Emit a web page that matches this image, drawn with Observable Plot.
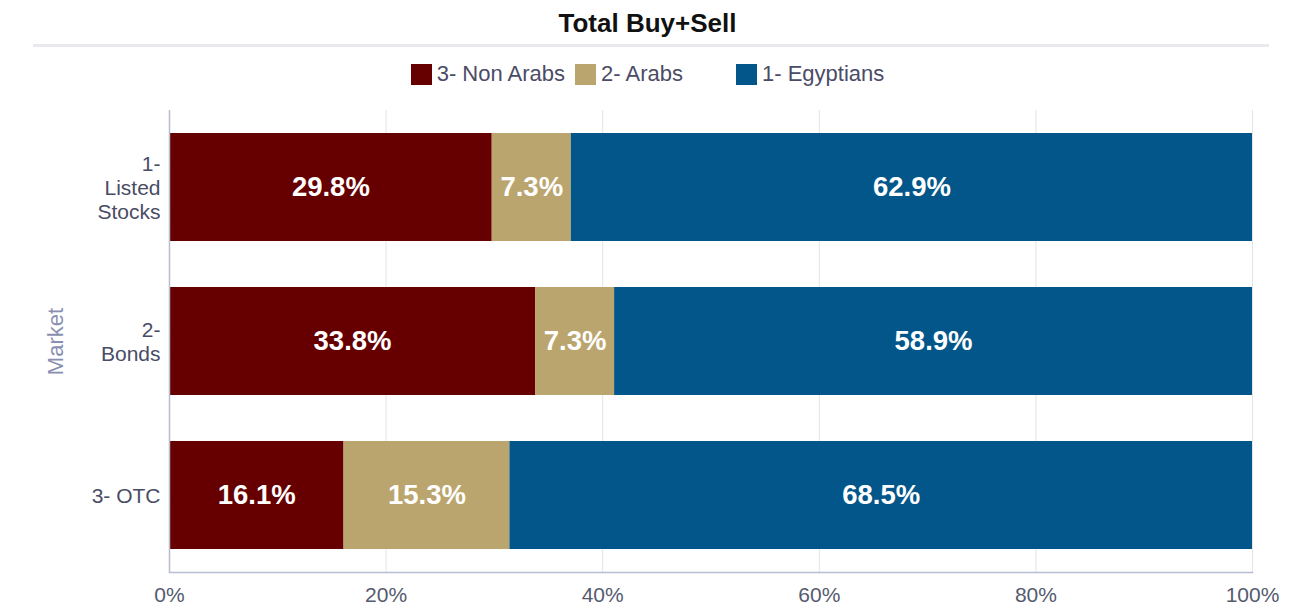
<!DOCTYPE html>
<html>
<head>
<meta charset="utf-8">
<script src="https://cdn.jsdelivr.net/npm/d3@7"></script>
<script src="https://cdn.jsdelivr.net/npm/@observablehq/plot@0.6"></script>
<style>
  html, body { margin: 0; padding: 0; background: #fff; }
  body { width: 1295px; height: 613px; overflow: hidden; font-family: "Liberation Sans", Arial, sans-serif; }
  #title { position: absolute; left: 0; top: 7px; width: 1295px; text-align: center; font-weight: bold; font-size: 26px; line-height: 32px; color: #111; }
  #sep { position: absolute; left: 33px; top: 44px; width: 1236px; height: 3px; background: #e9e9ee; }
  #legend { position: absolute; top: 60px; left: 0; width: 1295px; display: flex; justify-content: center; font-size: 22px; line-height: 28px; color: #4a4c66; }
  .item { display: flex; align-items: center; }
  .sw { width: 21px; height: 21px; margin-right: 5px; }
  #chart { position: absolute; left: 0; top: 95px; }
</style>
</head>
<body>
<div id="title">Total Buy+Sell</div>
<div id="sep"></div>
<div id="legend"></div>
<div id="chart"></div>
<script>
const markets = ["1- Listed Stocks", "2- Bonds", "3- OTC"];
const marketLabels = ["1-\nListed\nStocks", "2-\nBonds", "3- OTC"];
const series = ["3- Non Arabs", "2- Arabs", "1- Egyptians"];
const colors = ["#660000", "#bba56e", "#02568a"];
const nonArabs = [29.8, 33.8, 16.1];
const arabs = [7.3, 7.3, 15.3];
const egyptians = [62.9, 58.9, 68.5];
const xTicks = [0, 0.2, 0.4, 0.6, 0.8, 1];

const values = [nonArabs, arabs, egyptians];
const data = [];
series.forEach((s, si) => markets.forEach((m, mi) => data.push({market: m, series: s, value: values[si][mi]})));

// legend
const legend = document.getElementById("legend");
const gaps = [10, 53, 0];
series.forEach((s, i) => {
  const it = document.createElement("div");
  it.className = "item";
  it.style.marginRight = gaps[i] + "px";
  it.innerHTML = `<div class="sw" style="background:${colors[i]}"></div><span>${s}</span>`;
  legend.appendChild(it);
});

const stackOpts = {y: "market", x: "value", z: "series", order: series, offset: "normalize"};

const chart = Plot.plot({
  width: 1295,
  height: 518,
  marginLeft: 169,
  marginRight: 43,
  marginTop: 15,
  marginBottom: 41,
  style: {fontFamily: "Liberation Sans, Arial, sans-serif", fontSize: "21px", color: "#4a4c66", background: "white"},
  x: {domain: [0, 1]},
  y: {domain: markets, paddingInner: 0.3, paddingOuter: 0.15},
  color: {domain: series, range: colors},
  marks: [
    Plot.ruleX(xTicks.slice(1), {stroke: "#e3e4ea", strokeWidth: 1}),
    Plot.barX(data, Plot.stackX({...stackOpts, fill: "series"})),
    Plot.text(data, Plot.stackX({...stackOpts, x: "value", text: d => d.value.toFixed(1) + "%", fill: "white", fontWeight: "bold", fontSize: 27.5})),
    Plot.ruleX([0], {stroke: "#b9bdd2", strokeWidth: 1.5}),
    Plot.frame({anchor: "bottom", stroke: "#b9bdd2", strokeWidth: 1.5}),
    Plot.axisX({ticks: xTicks, tickSize: 0, tickPadding: 15, fontSize: 21, tickFormat: d => Math.round(d * 100) + "%", fill: "#555a6e", label: null}),
    Plot.axisY({tickSize: 0, tickPadding: 9, fontSize: 21, tickFormat: d => marketLabels[markets.indexOf(d)], fill: "#4a4c66", lineHeight: 1.15, label: null}),
    Plot.axisY({ticks: [], tickSize: 0, fontSize: 22, fill: "#8a8fb0",
      label: "Market", labelAnchor: "center", labelArrow: "none", labelOffset: 122})
  ]
});
document.getElementById("chart").appendChild(chart);
</script>
</body>
</html>
